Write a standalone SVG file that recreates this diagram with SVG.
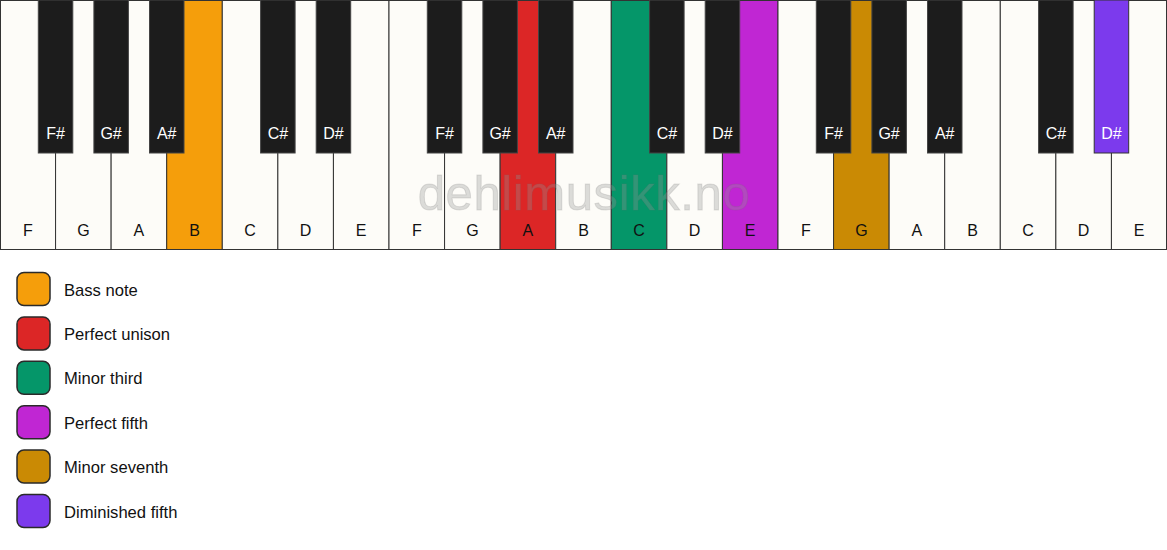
<svg xmlns="http://www.w3.org/2000/svg" width="1167" height="550" viewBox="0 0 1167 550">
<style>
.w{fill:#fdfcf8;stroke:#333;stroke-width:1}
.b{fill:#1c1c1c;stroke:#444;stroke-width:1}
.wl{font-family:"Liberation Sans",Arial,sans-serif;font-size:16px;fill:#111;text-anchor:middle}
.bl{font-family:"Liberation Sans",Arial,sans-serif;font-size:16px;fill:#fff;text-anchor:middle}
.lg{stroke:#2a2a2a;stroke-width:1.5}
.lt{font-family:"Liberation Sans",Arial,sans-serif;font-size:16.6px;fill:#111}
.wm{font-family:"Liberation Sans",Arial,sans-serif;font-size:49px;letter-spacing:0.6px;fill:rgba(150,150,150,0.32);stroke:rgba(110,110,110,0.18);stroke-width:1;text-anchor:middle}
</style>
<rect width="1167" height="550" fill="#fff"/>
<g id="white-keys">
<g id="w0"><rect class="w" x="0.5" y="0.5" width="55.07" height="249"/><text class="wl" x="27.8" y="236">F</text></g>
<g id="w1"><rect class="w" x="55.57" y="0.5" width="55.57" height="249"/><text class="wl" x="83.4" y="236">G</text></g>
<g id="w2"><rect class="w" x="111.14" y="0.5" width="55.57" height="249"/><text class="wl" x="138.9" y="236">A</text></g>
<g id="w3"><rect class="w" x="166.71" y="0.5" width="55.57" height="249" style="fill:#f59e0b"/><text class="wl" x="194.5" y="236">B</text></g>
<g id="w4"><rect class="w" x="222.29" y="0.5" width="55.57" height="249"/><text class="wl" x="250.1" y="236">C</text></g>
<g id="w5"><rect class="w" x="277.86" y="0.5" width="55.57" height="249"/><text class="wl" x="305.6" y="236">D</text></g>
<g id="w6"><rect class="w" x="333.43" y="0.5" width="55.57" height="249"/><text class="wl" x="361.2" y="236">E</text></g>
<g id="w7"><rect class="w" x="389.0" y="0.5" width="55.57" height="249"/><text class="wl" x="416.8" y="236">F</text></g>
<g id="w8"><rect class="w" x="444.57" y="0.5" width="55.57" height="249"/><text class="wl" x="472.4" y="236">G</text></g>
<g id="w9"><rect class="w" x="500.14" y="0.5" width="55.57" height="249" style="fill:#dc2626"/><text class="wl" x="527.9" y="236">A</text></g>
<g id="w10"><rect class="w" x="555.71" y="0.5" width="55.57" height="249"/><text class="wl" x="583.5" y="236">B</text></g>
<g id="w11"><rect class="w" x="611.29" y="0.5" width="55.57" height="249" style="fill:#059669"/><text class="wl" x="639.1" y="236">C</text></g>
<g id="w12"><rect class="w" x="666.86" y="0.5" width="55.57" height="249"/><text class="wl" x="694.6" y="236">D</text></g>
<g id="w13"><rect class="w" x="722.43" y="0.5" width="55.57" height="249" style="fill:#c026d3"/><text class="wl" x="750.2" y="236">E</text></g>
<g id="w14"><rect class="w" x="778.0" y="0.5" width="55.57" height="249"/><text class="wl" x="805.8" y="236">F</text></g>
<g id="w15"><rect class="w" x="833.57" y="0.5" width="55.57" height="249" style="fill:#ca8a04"/><text class="wl" x="861.4" y="236">G</text></g>
<g id="w16"><rect class="w" x="889.14" y="0.5" width="55.57" height="249"/><text class="wl" x="916.9" y="236">A</text></g>
<g id="w17"><rect class="w" x="944.71" y="0.5" width="55.57" height="249"/><text class="wl" x="972.5" y="236">B</text></g>
<g id="w18"><rect class="w" x="1000.29" y="0.5" width="55.57" height="249"/><text class="wl" x="1028.1" y="236">C</text></g>
<g id="w19"><rect class="w" x="1055.86" y="0.5" width="55.57" height="249"/><text class="wl" x="1083.6" y="236">D</text></g>
<g id="w20"><rect class="w" x="1111.43" y="0.5" width="55.07" height="249"/><text class="wl" x="1139.2" y="236">E</text></g>
</g>
<text class="wm" x="584" y="210">dehlimusikk.no</text>
<g id="black-keys">
<g id="b1"><rect class="b" x="38.3" y="0" width="34.5" height="153"/><text class="bl" x="55.6" y="139">F#</text></g>
<g id="b2"><rect class="b" x="93.9" y="0" width="34.5" height="153"/><text class="bl" x="111.1" y="139">G#</text></g>
<g id="b3"><rect class="b" x="149.5" y="0" width="34.5" height="153"/><text class="bl" x="166.7" y="139">A#</text></g>
<g id="b5"><rect class="b" x="260.6" y="0" width="34.5" height="153"/><text class="bl" x="277.9" y="139">C#</text></g>
<g id="b6"><rect class="b" x="316.2" y="0" width="34.5" height="153"/><text class="bl" x="333.4" y="139">D#</text></g>
<g id="b8"><rect class="b" x="427.3" y="0" width="34.5" height="153"/><text class="bl" x="444.6" y="139">F#</text></g>
<g id="b9"><rect class="b" x="482.9" y="0" width="34.5" height="153"/><text class="bl" x="500.1" y="139">G#</text></g>
<g id="b10"><rect class="b" x="538.5" y="0" width="34.5" height="153"/><text class="bl" x="555.7" y="139">A#</text></g>
<g id="b12"><rect class="b" x="649.6" y="0" width="34.5" height="153"/><text class="bl" x="666.9" y="139">C#</text></g>
<g id="b13"><rect class="b" x="705.2" y="0" width="34.5" height="153"/><text class="bl" x="722.4" y="139">D#</text></g>
<g id="b15"><rect class="b" x="816.3" y="0" width="34.5" height="153"/><text class="bl" x="833.6" y="139">F#</text></g>
<g id="b16"><rect class="b" x="871.9" y="0" width="34.5" height="153"/><text class="bl" x="889.1" y="139">G#</text></g>
<g id="b17"><rect class="b" x="927.5" y="0" width="34.5" height="153"/><text class="bl" x="944.7" y="139">A#</text></g>
<g id="b19"><rect class="b" x="1038.6" y="0" width="34.5" height="153"/><text class="bl" x="1055.9" y="139">C#</text></g>
<g id="b20"><rect class="b" x="1094.2" y="0" width="34.5" height="153" style="fill:#7c3aed;stroke:#333"/><text class="bl" x="1111.4" y="139">D#</text></g>
</g>
<g id="connectors"></g>
<g id="legend">
<g id="lg1"><rect class="lg" x="17" y="272.5" width="33" height="33" rx="7" fill="#f59e0b"/><text class="lt" x="64" y="295.5">Bass note</text></g>
<g id="lg2"><rect class="lg" x="17" y="316.9" width="33" height="33" rx="7" fill="#dc2626"/><text class="lt" x="64" y="339.9">Perfect unison</text></g>
<g id="lg3"><rect class="lg" x="17" y="361.3" width="33" height="33" rx="7" fill="#059669"/><text class="lt" x="64" y="384.3">Minor third</text></g>
<g id="lg4"><rect class="lg" x="17" y="405.7" width="33" height="33" rx="7" fill="#c026d3"/><text class="lt" x="64" y="428.7">Perfect fifth</text></g>
<g id="lg5"><rect class="lg" x="17" y="450.1" width="33" height="33" rx="7" fill="#ca8a04"/><text class="lt" x="64" y="473.1">Minor seventh</text></g>
<g id="lg6"><rect class="lg" x="17" y="494.5" width="33" height="33" rx="7" fill="#7c3aed"/><text class="lt" x="64" y="517.5">Diminished fifth</text></g>
</g>
</svg>
